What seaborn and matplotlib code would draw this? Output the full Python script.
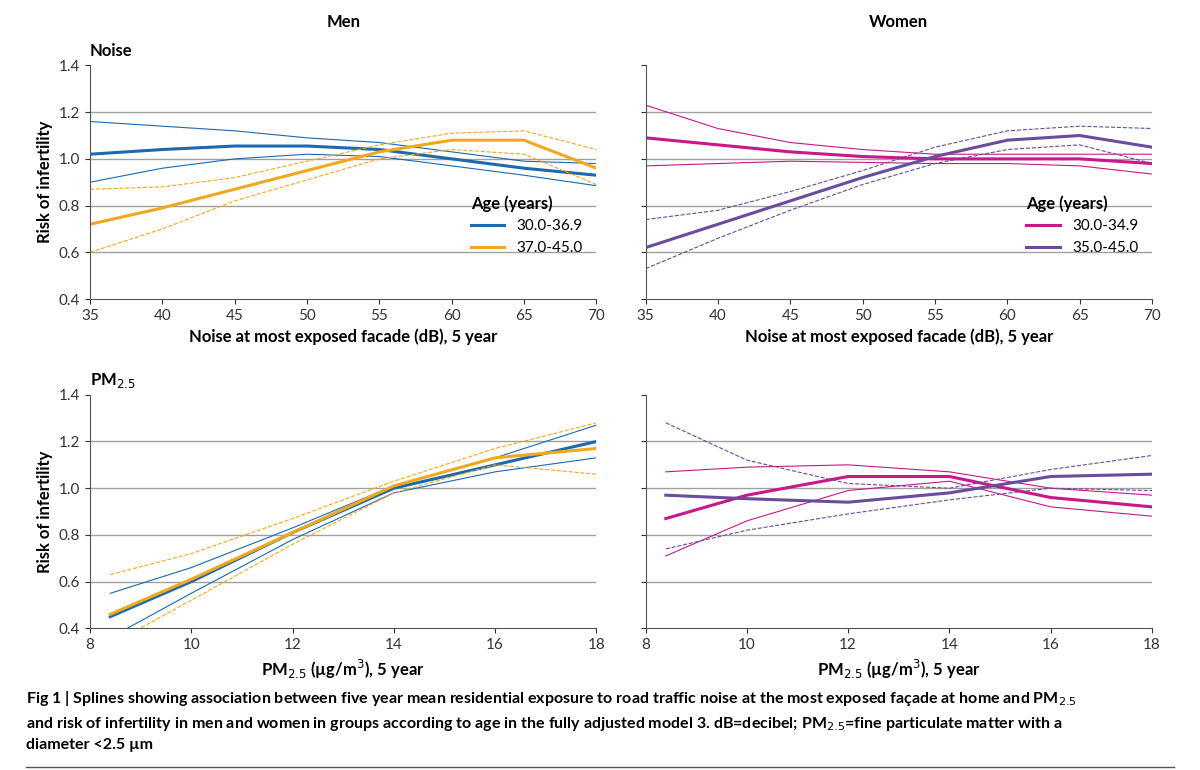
import numpy as np
import pandas as pd
import matplotlib.pyplot as plt
import seaborn as sns

# 字体设置
plt.rcParams['font.family'] = ['Lato', 'DejaVu Sans']
plt.rcParams['axes.unicode_minus'] = False

# 数据
noise_x = [35, 40, 45, 50, 55, 60, 65, 70]
pm_x = [8.4, 10, 12, 14, 16, 18]

men_noise_young = [1.02, 1.04, 1.055, 1.055, 1.04, 1.0, 0.96, 0.93]
men_noise_young_hi = [1.16, 1.14, 1.12, 1.09, 1.07, 1.03, 0.99, 0.98]
men_noise_young_lo = [0.90, 0.96, 1.0, 1.02, 1.01, 0.97, 0.93, 0.885]
men_noise_old = [0.72, 0.79, 0.87, 0.95, 1.03, 1.08, 1.08, 0.96]
men_noise_old_hi = [0.87, 0.88, 0.92, 0.99, 1.06, 1.11, 1.12, 1.04]
men_noise_old_lo = [0.60, 0.70, 0.82, 0.91, 1.0, 1.04, 1.02, 0.89]

women_noise_young = [1.09, 1.06, 1.03, 1.01, 1.0, 1.0, 1.0, 0.98]
women_noise_young_hi = [1.23, 1.13, 1.07, 1.04, 1.02, 1.02, 1.02, 1.02]
women_noise_young_lo = [0.97, 0.98, 0.99, 0.985, 0.98, 0.98, 0.97, 0.935]
women_noise_old = [0.62, 0.72, 0.82, 0.92, 1.01, 1.08, 1.10, 1.05]
women_noise_old_hi = [0.74, 0.78, 0.86, 0.95, 1.05, 1.12, 1.14, 1.13]
women_noise_old_lo = [0.53, 0.66, 0.78, 0.89, 0.98, 1.04, 1.06, 0.98]

men_pm_young = [0.45, 0.60, 0.81, 1.0, 1.10, 1.20]
men_pm_young_hi = [0.55, 0.66, 0.83, 1.01, 1.13, 1.27]
men_pm_young_lo = [0.36, 0.55, 0.78, 0.98, 1.07, 1.13]
men_pm_old = [0.46, 0.61, 0.81, 1.01, 1.13, 1.17]
men_pm_old_hi = [0.63, 0.72, 0.87, 1.03, 1.17, 1.28]
men_pm_old_lo = [0.33, 0.52, 0.76, 0.98, 1.10, 1.06]

women_pm_young = [0.87, 0.97, 1.05, 1.05, 0.96, 0.92]
women_pm_young_hi = [1.07, 1.09, 1.10, 1.07, 1.00, 0.97]
women_pm_young_lo = [0.71, 0.86, 0.99, 1.03, 0.92, 0.88]
women_pm_old = [0.97, 0.955, 0.94, 0.98, 1.05, 1.06]
women_pm_old_hi = [1.28, 1.12, 1.02, 1.0, 1.08, 1.14]
women_pm_old_lo = [0.74, 0.82, 0.89, 0.95, 1.0, 0.99]

blue, orange, magenta, purple = '#1b6aae', '#f2a81d', '#c8188a', '#6a4c9c'

fig = plt.figure(figsize=(12, 7.7), dpi=100)
gs = fig.add_gridspec(2, 2, left=0.075, right=0.96, top=0.915, bottom=0.184, hspace=0.41, wspace=0.097)

def draw(ax, x, main1, hi1, lo1, main2, hi2, lo2, c1, c2, ls2):
    sns.lineplot(x=x, y=main1, color=c1, lw=2.2, ax=ax)
    sns.lineplot(x=x, y=hi1, color=c1, lw=0.8, ax=ax)
    sns.lineplot(x=x, y=lo1, color=c1, lw=0.8, ax=ax)
    sns.lineplot(x=x, y=main2, color=c2, lw=2.2, ax=ax)
    sns.lineplot(x=x, y=hi2, color=c2, lw=0.8, ls=ls2, ax=ax)
    sns.lineplot(x=x, y=lo2, color=c2, lw=0.8, ls=ls2, ax=ax)
    ax.set_ylim(0.4, 1.4)
    ax.set_yticks([0.4, 0.6, 0.8, 1.0, 1.2, 1.4])
    for v in [0.6, 0.8, 1.0, 1.2]:
        ax.axhline(v, color='#a0a0a0', lw=1, zorder=0)
    for s in ['top', 'right']:
        ax.spines[s].set_visible(False)
    ax.spines['left'].set_color('#555555')
    ax.spines['bottom'].set_color('#555555')
    ax.tick_params(labelsize=11, colors='#333333')

ax1 = fig.add_subplot(gs[0, 0])
draw(ax1, noise_x, men_noise_young, men_noise_young_hi, men_noise_young_lo,
     men_noise_old, men_noise_old_hi, men_noise_old_lo, blue, orange, '--')
ax2 = fig.add_subplot(gs[0, 1])
draw(ax2, noise_x, women_noise_young, women_noise_young_hi, women_noise_young_lo,
     women_noise_old, women_noise_old_hi, women_noise_old_lo, magenta, purple, '--')
ax3 = fig.add_subplot(gs[1, 0])
draw(ax3, pm_x, men_pm_young, men_pm_young_hi, men_pm_young_lo,
     men_pm_old, men_pm_old_hi, men_pm_old_lo, blue, orange, '--')
ax4 = fig.add_subplot(gs[1, 1])
draw(ax4, pm_x, women_pm_young, women_pm_young_hi, women_pm_young_lo,
     women_pm_old, women_pm_old_hi, women_pm_old_lo, magenta, purple, '--')

for ax in [ax1, ax2]:
    ax.set_xlim(35, 70)
    ax.set_xlabel('Noise at most exposed facade (dB), 5 year', fontsize=12, fontweight='bold')
for ax in [ax3, ax4]:
    ax.set_xlim(8, 18)
    ax.set_xticks([8, 10, 12, 14, 16, 18])
    ax.set_xlabel('PM$_{2.5}$ (µg/m$^3$), 5 year', fontsize=12, fontweight='bold')
for ax in [ax1, ax3]:
    ax.set_ylabel('Risk of infertility', fontsize=12, fontweight='bold')
for ax in [ax2, ax4]:
    ax.set_yticklabels([])
    ax.set_ylabel('')

ax1.set_title('Men', fontsize=12, fontweight='bold', pad=28)
ax2.set_title('Women', fontsize=12, fontweight='bold', pad=28)
ax1.text(0.0, 1.04, 'Noise', transform=ax1.transAxes, fontsize=12, fontweight='bold')
ax3.text(0.0, 1.04, 'PM$_{2.5}$', transform=ax3.transAxes, fontsize=12, fontweight='bold')

# 图例
for ax, c1, c2, l1, l2 in [(ax1, blue, orange, '30.0-36.9', '37.0-45.0'),
                           (ax2, magenta, purple, '30.0-34.9', '35.0-45.0')]:
    h = [plt.Line2D([], [], color=c1, lw=2.2), plt.Line2D([], [], color=c2, lw=2.2)]
    leg = ax.legend(h, [l1, l2], title='Age (years)', loc='lower right', bbox_to_anchor=(1.0, 0.13),
                    frameon=False, fontsize=11, title_fontproperties={'weight': 'bold', 'size': 12},
                    handlelength=2.2)
    leg._legend_box.align = 'left'

# 说明文字
fig.text(0.022, 0.105, 'Fig 1 | Splines showing association between five year mean residential exposure to road traffic noise at the most exposed façade at home and PM$_{2.5}$\n'
         'and risk of infertility in men and women in groups according to age in the fully adjusted model 3. dB=decibel; PM$_{2.5}$=fine particulate matter with a\n'
         'diameter <2.5 µm', fontsize=11.5, fontweight='bold', va='top', linespacing=1.5)
fig.add_artist(plt.Line2D([0.022, 0.978], [0.004, 0.004], color='#555555', lw=1))

plt.savefig('out.png', dpi=100)
